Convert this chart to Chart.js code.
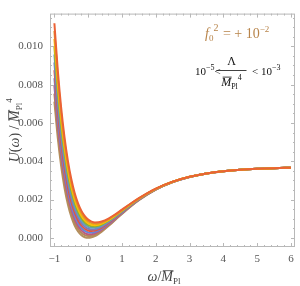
<!DOCTYPE html>
<html><head><meta charset="utf-8">
<script src="https://cdn.jsdelivr.net/npm/chart.js@4.4.0/dist/chart.umd.min.js"></script>
<style>html,body{margin:0;padding:0;background:#fff}</style>
</head><body>
<canvas id="c" width="300" height="286"></canvas>
<script>
// omega / M_Pl sample points
const omega = [-1,-0.9,-0.8,-0.7,-0.6,-0.5,-0.4,-0.3,-0.2,-0.1,0,0.1,0.2,0.3,0.4,0.6,0.8,1,1.25,1.5,2,2.5,3,3.5,4,4.5,5,5.5,6];
// U(omega)/M_Pl^4 for the family of Lambda values (largest Lambda first = top curve)
const u01 = [0.011208,0.008758,0.006797,0.005242,0.004020,0.003070,0.002345,0.001801,0.001406,0.001130,0.000950,0.000847,0.000803,0.000808,0.000850,0.001008,0.001225,0.001470,0.001779,0.002071,0.002566,0.002932,0.003188,0.003362,0.003478,0.003555,0.003605,0.003638,0.003660];
const u02 = [0.010799,0.008405,0.006492,0.004978,0.003792,0.002873,0.002175,0.001654,0.001279,0.001020,0.000855,0.000765,0.000732,0.000747,0.000797,0.000969,0.001196,0.001448,0.001764,0.002061,0.002561,0.002930,0.003187,0.003362,0.003477,0.003554,0.003605,0.003638,0.003660];
const u03 = [0.010390,0.008051,0.006186,0.004714,0.003564,0.002676,0.002004,0.001507,0.001152,0.000910,0.000760,0.000683,0.000661,0.000685,0.000744,0.000929,0.001166,0.001426,0.001748,0.002050,0.002556,0.002927,0.003186,0.003361,0.003476,0.003554,0.003605,0.003638,0.003660];
const u04 = [0.009981,0.007698,0.005881,0.004450,0.003336,0.002479,0.001834,0.001360,0.001025,0.000800,0.000665,0.000601,0.000590,0.000624,0.000691,0.000890,0.001137,0.001404,0.001733,0.002040,0.002551,0.002925,0.003185,0.003361,0.003476,0.003554,0.003605,0.003638,0.003660];
const u05 = [0.009572,0.007344,0.005575,0.004186,0.003108,0.002282,0.001663,0.001212,0.000897,0.000690,0.000570,0.000519,0.000519,0.000563,0.000638,0.000850,0.001107,0.001382,0.001718,0.002029,0.002546,0.002922,0.003183,0.003360,0.003476,0.003554,0.003605,0.003638,0.003660];
const u06 = [0.009163,0.006991,0.005270,0.003922,0.002880,0.002085,0.001493,0.001065,0.000770,0.000581,0.000475,0.000437,0.000449,0.000502,0.000585,0.000810,0.001078,0.001360,0.001703,0.002018,0.002541,0.002920,0.003182,0.003359,0.003476,0.003554,0.003605,0.003638,0.003660];
const u07 = [0.008753,0.006637,0.004964,0.003658,0.002651,0.001887,0.001323,0.000918,0.000643,0.000471,0.000380,0.000354,0.000378,0.000440,0.000532,0.000770,0.001048,0.001337,0.001687,0.002007,0.002535,0.002917,0.003181,0.003358,0.003476,0.003554,0.003605,0.003638,0.003660];
const u08 = [0.008344,0.006284,0.004659,0.003394,0.002423,0.001690,0.001153,0.000771,0.000516,0.000361,0.000285,0.000272,0.000307,0.000379,0.000479,0.000731,0.001019,0.001315,0.001672,0.001997,0.002530,0.002915,0.003180,0.003357,0.003476,0.003554,0.003605,0.003638,0.003660];
const u09 = [0.007935,0.005930,0.004353,0.003130,0.002195,0.001493,0.000982,0.000623,0.000388,0.000251,0.000190,0.000190,0.000236,0.000318,0.000426,0.000691,0.000989,0.001293,0.001657,0.001986,0.002525,0.002912,0.003178,0.003356,0.003476,0.003554,0.003605,0.003638,0.003660];
const u10 = [0.007526,0.005577,0.004048,0.002866,0.001967,0.001296,0.000812,0.000476,0.000261,0.000141,0.000095,0.000108,0.000165,0.000257,0.000373,0.000652,0.000960,0.001271,0.001642,0.001976,0.002520,0.002910,0.003177,0.003356,0.003476,0.003554,0.003605,0.003638,0.003660];
const u11 = [0.007117,0.005223,0.003742,0.002602,0.001739,0.001099,0.000641,0.000329,0.000134,0.000031,0,0.000026,0.000094,0.000195,0.000320,0.000612,0.000930,0.001249,0.001626,0.001965,0.002515,0.002907,0.003176,0.003356,0.003476,0.003554,0.003605,0.003638,0.003660];
const curves = [u01,u02,u03,u04,u05,u06,u07,u08,u09,u10,u11];
const curveColors = ['#EB6235','#E19C24','#FFBF00','#8FB032','#5D9EC7','#8778B3','#E95536','#6685D9','#BC5B80','#B58A58','#B4905F'];
const xTicks = [-1,0,1,2,3,4,5,6];
const yTicks = [0,0.002,0.004,0.006,0.008,0.010];
const xRange = [-1.13,6.12];
const yRange = [-0.00048,0.01171];

const SERIF = '"Liberation Serif","DejaVu Serif",serif';

function drawRich(ctx, segs, x, y, align){
  // segs: [text, sizePx, italic, dy, overbar, extraSpace]
  let w=0; const ws=[];
  segs.forEach(s=>{ctx.font=(s[2]?'italic ':'')+s[1]+'px '+SERIF; const m=ctx.measureText(s[0]).width; ws.push(m); w+=m + (s[5]||0);});
  let cx = align==='center' ? x-w/2 : (align==='right'? x-w : x);
  segs.forEach((s,i)=>{
    ctx.font=(s[2]?'italic ':'')+s[1]+'px '+SERIF;
    ctx.fillText(s[0], cx, y+(s[3]||0));
    if(s[4]){ctx.save();ctx.lineWidth=0.8;ctx.strokeStyle=ctx.fillStyle;ctx.beginPath();ctx.moveTo(cx+1.5,y-s[1]*0.74);ctx.lineTo(cx+ws[i]+0.5,y-s[1]*0.74);ctx.stroke();ctx.restore();}
    cx+=ws[i]+(s[5]||0);
  });
  return w;
}

const framePlugin = {
  id:'frame',
  afterDraw(chart){
    const {ctx, chartArea:a, scales:{x,y}} = chart;
    ctx.save();
    ctx.strokeStyle='#b8b8b8'; ctx.lineWidth=1;
    ctx.strokeRect(a.left+0.5,a.top+0.5,a.right-a.left-1,a.bottom-a.top-1);
    ctx.beginPath();
    for(let k=-5;k<=30;k++){
      const v=k*0.2; if(v<xRange[0]||v>xRange[1]) continue;
      const px=Math.round(x.getPixelForValue(v))+0.5;
      const L=(k%5===0)?4:2;
      ctx.moveTo(px,a.bottom); ctx.lineTo(px,a.bottom-L);
      ctx.moveTo(px,a.top); ctx.lineTo(px,a.top+L);
    }
    for(let k=-1;k<=23;k++){
      const v=k*0.0005; if(v<yRange[0]||v>yRange[1]) continue;
      const py=Math.round(y.getPixelForValue(v))+0.5;
      const L=(k%4===0)?4:2;
      ctx.moveTo(a.left,py); ctx.lineTo(a.left+L,py);
      ctx.moveTo(a.right,py); ctx.lineTo(a.right-L,py);
    }
    ctx.stroke();
    // axis titles
    ctx.fillStyle='#444'; ctx.textBaseline='alphabetic';
    drawRich(ctx,[['ω',14,true],['/',14,false],['M',14,true,0,true],['Pl',9,false,3]],164,281,'center');
    ctx.save(); ctx.translate(19,(a.top+a.bottom)/2); ctx.rotate(-Math.PI/2);
    drawRich(ctx,[['U',14,true],['(',14,false],['ω',14,true],[')',14,false],[' / ',14,false],['M',14,true,0,true],['Pl',9,false,3],['4',9,false,-7]],0,0,'center');
    ctx.restore();
    // annotations
    ctx.fillStyle='#B8844A';
    drawRich(ctx,[['f',14,true],['0',9,false,3],['2',10,false,-7,false,1],[' = + 10',14,false],['−2',9,false,-6]],205,38,'left');
    ctx.fillStyle='#111';
    drawRich(ctx,[['10',11,false],['−5',8,false,-5],['<',11,false]],195,75,'left');
    drawRich(ctx,[['Λ',12,false]],231.5,65,'center');
    ctx.strokeStyle='#111'; ctx.lineWidth=0.8; ctx.beginPath(); ctx.moveTo(216.5,70.5); ctx.lineTo(246.5,70.5); ctx.stroke();
    drawRich(ctx,[['M',12,true,0,true],['Pl',8,false,3],['4',8,false,-6]],231.5,86,'center');
    drawRich(ctx,[['< 10',11,false],['−3',8,false,-5]],252,75,'left');
    ctx.restore();
  }
};

const datasets = curves.map((u,i)=>({
  data: omega.map((w,j)=>({x:w,y:u[j]})),
  borderColor: curveColors[i],
  borderWidth: 2,
  pointRadius: 0,
  fill:false,
  cubicInterpolationMode:'monotone'
}));

new Chart(document.getElementById('c'),{
  type:'line',
  data:{datasets},
  options:{
    responsive:false, animation:false, devicePixelRatio:1,
    layout:{padding:{top:4,right:5,left:0,bottom:0}},
    plugins:{legend:{display:false},tooltip:{enabled:false}},
    scales:{
      x:{type:'linear',min:xRange[0],max:xRange[1],
        afterBuildTicks:s=>{s.ticks=xTicks.map(v=>({value:v}));},
        afterFit:s=>{s.height=39;},
        grid:{display:false,drawTicks:false},border:{display:false},
        ticks:{padding:6,color:'#555',font:{family:SERIF,size:11},maxRotation:0,autoSkip:false,
          callback:v=>(v<0?'−'+Math.abs(v):String(v))}},
      y:{type:'linear',min:yRange[0],max:yRange[1],
        afterBuildTicks:s=>{s.ticks=yTicks.map(v=>({value:v}));},
        afterFit:s=>{s.width=50;},
        grid:{display:false,drawTicks:false},border:{display:false},
        ticks:{padding:7,color:'#555',font:{family:SERIF,size:11},autoSkip:false,
          callback:v=>Number(v).toFixed(3)}}
    }
  },
  plugins:[framePlugin]
});
</script>
</body></html>
